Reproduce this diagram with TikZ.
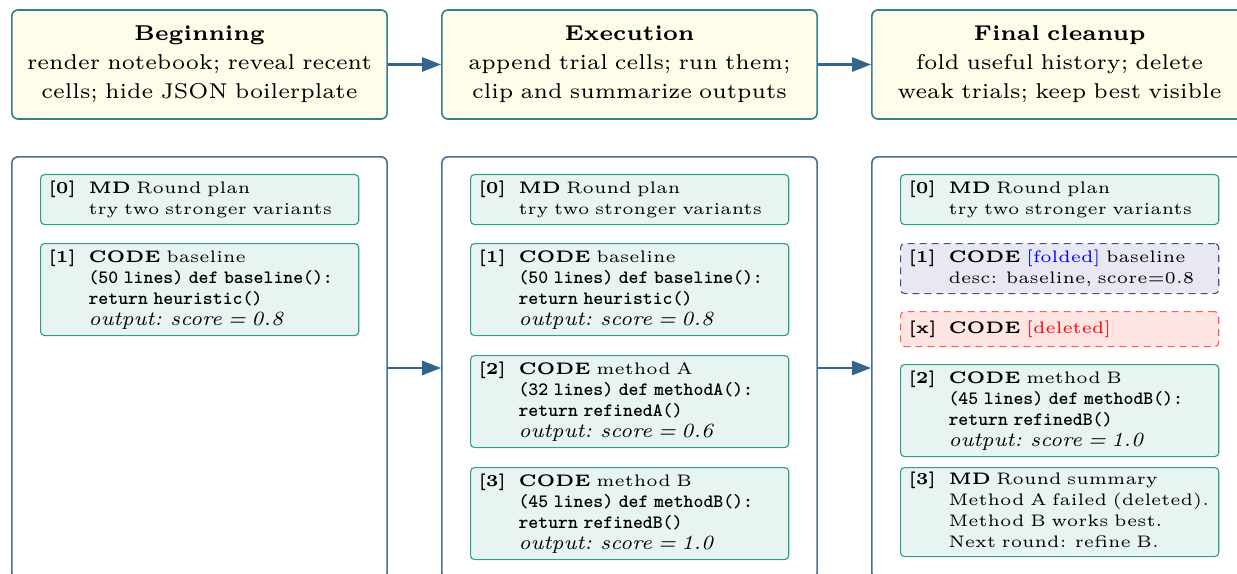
\documentclass[tikz,border=0pt]{standalone}
\usetikzlibrary{arrows.meta}

% palette
\definecolor{stagefill}{RGB}{255,252,234}
\definecolor{stageline}{RGB}{52,128,140}
\definecolor{flowarrow}{RGB}{52,100,140}
\definecolor{panelline}{RGB}{70,112,150}
\definecolor{cellfill}{RGB}{232,244,241}
\definecolor{cellline}{RGB}{40,160,140}
\definecolor{foldfill}{RGB}{232,232,242}
\definecolor{foldline}{RGB}{60,80,150}
\definecolor{delfill}{RGB}{255,228,228}
\definecolor{delline}{RGB}{255,90,90}

\newcommand{\cellfont}{\fontsize{4.75}{5.975}\selectfont}
\newcommand{\stagefont}{\fontsize{6.1}{8.25}\selectfont}
% code lines are set in bold mono, a little larger than the prose
\newcommand{\code}[1]{{\fontsize{5.36}{5.975}\selectfont\ttfamily\bfseries #1}}
% cell output line
\newcommand{\outp}[1]{{\fontsize{5.75}{5.975}\selectfont\itshape output: #1}}
% a notebook cell: bold index, then the stacked lines of the cell
\newcommand{\nbcell}[2]{\makebox[0.4cm][l]{\textbf{#1}}\parbox[t]{2.9cm}{\raggedright\strut#2\strut}}

\tikzset{
  stagebox/.style={draw=stageline, fill=stagefill, line width=0.016cm,
    rounded corners=0.06cm, minimum width=3.75cm, minimum height=1.09cm,
    text width=3.6cm, align=center, inner sep=0pt, font=\stagefont},
  panelbox/.style={draw=panelline, fill=white, line width=0.016cm,
    rounded corners=0.06cm, minimum width=3.75cm, minimum height=4.22cm,
    inner sep=0pt},
  cellbox/.style={anchor=north west, draw=cellline, fill=cellfill,
    line width=0.011cm, rounded corners=0.04cm, text width=3.02cm,
    align=left, inner xsep=0.08cm, inner ysep=0pt, font=\cellfont},
  foldbox/.style={cellbox, draw=foldline, fill=foldfill, dash pattern=on 0.07cm off 0.05cm},
  delbox/.style={cellbox, draw=delline, fill=delfill, dash pattern=on 0.07cm off 0.05cm},
  flow/.style={draw=flowarrow, line width=0.025cm,
    -{Triangle[length=0.19cm,width=0.14cm]}},
}

\begin{document}
\begin{tikzpicture}[x=0.01cm, y=-0.01cm]
\clip (0,0) rectangle (1237,573);

% stage headers
\node[stagebox] (s1) at (199.5,64.5) {\textbf{Beginning}\\render notebook; reveal recent\\cells; hide JSON boilerplate};
\node[stagebox] (s2) at (629.5,64.5) {\textbf{Execution}\\append trial cells; run them;\\clip and summarize outputs};
\node[stagebox] (s3) at (1059.5,64.5) {\textbf{Final cleanup}\\fold useful history; delete\\weak trials; keep best visible};
\draw[flow] (s1.east) -- (s2.west);
\draw[flow] (s2.east) -- (s3.west);

% notebook panels
\node[panelbox] (p1) at (199.5,368) {};
\node[panelbox] (p2) at (629.5,368) {};
\node[panelbox] (p3) at (1059.5,368) {};
\draw[flow] (p1.east) -- (p2.west);
\draw[flow] (p2.east) -- (p3.west);

% beginning notebook
\node[cellbox, minimum height=0.50cm] (a0) at (40,174)
  {\nbcell{[0]}{\textbf{MD} Round plan\\try two stronger variants}};
\node[cellbox, minimum height=0.92cm] (a1) at (40,243)
  {\nbcell{[1]}{\textbf{CODE} baseline\\\code{(50 lines) def baseline():}\\\code{return heuristic()}\\\outp{score = 0.8}}};

% notebook during execution
\node[cellbox, minimum height=0.50cm] (b0) at (470,174)
  {\nbcell{[0]}{\textbf{MD} Round plan\\try two stronger variants}};
\node[cellbox, minimum height=0.92cm] (b1) at (470,243)
  {\nbcell{[1]}{\textbf{CODE} baseline\\\code{(50 lines) def baseline():}\\\code{return heuristic()}\\\outp{score = 0.8}}};
\node[cellbox, minimum height=0.92cm] (b2) at (470,355)
  {\nbcell{[2]}{\textbf{CODE} method A\\\code{(32 lines) def methodA():}\\\code{return refinedA()}\\\outp{score = 0.6}}};
\node[cellbox, minimum height=0.92cm] (b3) at (470,467)
  {\nbcell{[3]}{\textbf{CODE} method B\\\code{(45 lines) def methodB():}\\\code{return refinedB()}\\\outp{score = 1.0}}};

% notebook after cleanup
\node[cellbox, minimum height=0.50cm] (c0) at (900,174)
  {\nbcell{[0]}{\textbf{MD} Round plan\\try two stronger variants}};
\node[foldbox, minimum height=0.50cm] (c1) at (900,243)
  {\nbcell{[1]}{\textbf{CODE} \textcolor{blue}{[folded]} baseline\\desc: baseline, score=0.8}};
\node[delbox, minimum height=0.35cm] (cx) at (900,311)
  {\nbcell{[x]}{\textbf{CODE} \textcolor{red}{[deleted]}}};
\node[cellbox, minimum height=0.92cm] (c2) at (900,364)
  {\nbcell{[2]}{\textbf{CODE} method B\\\code{(45 lines) def methodB():}\\\code{return refinedB()}\\\outp{score = 1.0}}};
\node[cellbox, minimum height=0.89cm] (c3) at (900,467)
  {\nbcell{[3]}{\textbf{MD} Round summary\\Method A failed (deleted).\\Method B works best.\\Next round: refine B.}};
\end{tikzpicture}
\end{document}
